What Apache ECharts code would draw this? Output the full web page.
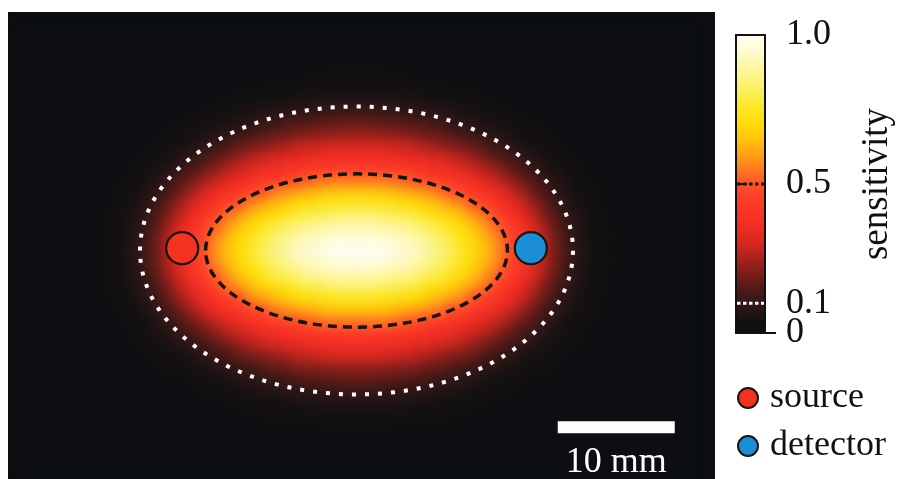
<!DOCTYPE html>
<html>
<head>
<meta charset="utf-8">
<script src="https://cdn.jsdelivr.net/npm/echarts@6/dist/echarts.min.js"></script>
<style>
html,body{margin:0;padding:0;background:#ffffff;}
#chart{width:911px;height:479px;position:relative;}
/* soften the heatmap layer (zlevel 1) like the smoothly rendered original map, clipped to the panel */
#chart canvas[data-zr-dom-id="zr_1"]{filter:blur(5px);clip-path:inset(12px 196px 0px 8px);}
</style>
</head>
<body>
<div id="chart"></div>
<script>
// ---------------- data ----------------
// sensitivity map, one quadrant: row = mm from centre vertically (0..19), column = mm from centre horizontally (0..29)
const sensitivityQuadrant = [
  [1.00,1.00,0.99,0.98,0.95,0.93,0.89,0.85,0.81,0.76,0.70,0.65,0.58,0.50,0.43,0.35,0.27,0.19,0.13,0.08,0.04,0.02,0.01,0,0,0,0,0,0,0],
  [0.97,0.97,0.96,0.94,0.93,0.90,0.87,0.83,0.79,0.74,0.69,0.63,0.57,0.48,0.42,0.34,0.27,0.19,0.12,0.07,0.04,0.02,0.01,0.01,0,0,0,0,0,0],
  [0.91,0.91,0.90,0.89,0.88,0.85,0.82,0.79,0.75,0.70,0.65,0.59,0.52,0.46,0.39,0.32,0.25,0.17,0.11,0.07,0.04,0.02,0.01,0,0,0,0,0,0,0],
  [0.84,0.84,0.83,0.81,0.80,0.78,0.75,0.72,0.68,0.64,0.59,0.54,0.47,0.41,0.35,0.28,0.21,0.15,0.10,0.06,0.03,0.02,0.01,0,0,0,0,0,0,0],
  [0.76,0.76,0.75,0.74,0.72,0.70,0.67,0.64,0.60,0.57,0.50,0.46,0.41,0.36,0.30,0.24,0.18,0.12,0.08,0.05,0.02,0.01,0.01,0,0,0,0,0,0,0],
  [0.66,0.66,0.65,0.64,0.62,0.60,0.58,0.55,0.50,0.47,0.43,0.39,0.35,0.30,0.25,0.19,0.14,0.10,0.06,0.03,0.02,0.01,0,0,0,0,0,0,0,0],
  [0.55,0.55,0.55,0.54,0.52,0.49,0.47,0.45,0.42,0.40,0.36,0.32,0.28,0.24,0.19,0.15,0.11,0.07,0.04,0.02,0.01,0.01,0,0,0,0,0,0,0,0],
  [0.45,0.45,0.44,0.44,0.43,0.41,0.39,0.37,0.35,0.32,0.29,0.26,0.22,0.18,0.14,0.11,0.07,0.05,0.03,0.02,0.01,0,0,0,0,0,0,0,0,0],
  [0.37,0.37,0.36,0.36,0.35,0.33,0.32,0.30,0.28,0.26,0.23,0.19,0.16,0.13,0.10,0.07,0.05,0.03,0.02,0.01,0.01,0,0,0,0,0,0,0,0,0],
  [0.30,0.30,0.30,0.29,0.28,0.27,0.25,0.23,0.21,0.19,0.17,0.14,0.11,0.09,0.06,0.04,0.03,0.02,0.01,0,0,0,0,0,0,0,0,0,0,0],
  [0.23,0.23,0.22,0.22,0.21,0.20,0.18,0.17,0.15,0.13,0.11,0.09,0.07,0.05,0.04,0.02,0.02,0.01,0,0,0,0,0,0,0,0,0,0,0,0],
  [0.17,0.17,0.16,0.16,0.15,0.14,0.13,0.11,0.10,0.08,0.07,0.05,0.04,0.03,0.02,0.01,0.01,0.01,0,0,0,0,0,0,0,0,0,0,0,0],
  [0.11,0.11,0.11,0.10,0.09,0.09,0.08,0.07,0.06,0.05,0.04,0.03,0.02,0.02,0.01,0.01,0,0,0,0,0,0,0,0,0,0,0,0,0,0],
  [0.06,0.06,0.06,0.06,0.05,0.05,0.04,0.03,0.03,0.02,0.02,0.01,0.01,0.01,0,0,0,0,0,0,0,0,0,0,0,0,0,0,0,0],
  [0.03,0.03,0.03,0.03,0.03,0.02,0.02,0.02,0.01,0.01,0.01,0.01,0,0,0,0,0,0,0,0,0,0,0,0,0,0,0,0,0,0],
  [0.02,0.02,0.02,0.01,0.01,0.01,0.01,0.01,0.01,0.01,0,0,0,0,0,0,0,0,0,0,0,0,0,0,0,0,0,0,0,0],
  [0.01,0.01,0.01,0.01,0.01,0,0,0,0,0,0,0,0,0,0,0,0,0,0,0,0,0,0,0,0,0,0,0,0,0],
  [0,0,0,0,0,0,0,0,0,0,0,0,0,0,0,0,0,0,0,0,0,0,0,0,0,0,0,0,0,0],
  [0,0,0,0,0,0,0,0,0,0,0,0,0,0,0,0,0,0,0,0,0,0,0,0,0,0,0,0,0,0],
  [0,0,0,0,0,0,0,0,0,0,0,0,0,0,0,0,0,0,0,0,0,0,0,0,0,0,0,0,0,0]
];
// iso-sensitivity contours (mm)
const contourLevels    = [0.1, 0.5];
const contourCenterX   = [0, 0];
const contourCenterY   = [0, 0];
const contourSemiAxisX = [18.5, 12.9];
const contourSemiAxisY = [12.3, 6.55];
// optodes (mm)
const optodeNames = ['source', 'detector'];
const optodeX = [-14.9, 14.9];
const optodeY = [0.2, 0.2];
// scale bar (mm)
const scaleBarStart = 17.2;
const scaleBarY = -15.1;
const scaleBarLength = 10;
const scaleBarLabel = '10 mm';
// colour bar
const colorbarTickValues = [0, 0.1, 0.5, 1.0];
const colorbarTickLabels = ['0', '0.1', '0.5', '1.0'];
const colorbarTitle = 'sensitivity';

// ---------------- styles / layout ----------------
const colorScale = [
  '#0c0e11','#1a1213','#321716','#521a17','#7c1e19','#aa221c','#d6281f','#ee2c22',
  '#fa3226','#fe3c28','#ff5226','#ff7a20','#ffa214','#ffc40a','#ffdb08','#fde61e',
  '#fcee50','#fdf37e','#fef7aa','#fffbd4','#fffff4'
];
const SERIF = '"Liberation Serif", "Times New Roman", serif';
const PX_PER_MM = 11.7;
const CENTER_PX = [356.5, 250.5];
const nCols = sensitivityQuadrant[0].length;
const nRows = sensitivityQuadrant.length;
const mapRect = {
  left: CENTER_PX[0] - (nCols - 0.5) * PX_PER_MM,
  top: CENTER_PX[1] - (nRows - 0.5) * PX_PER_MM,
  width: (2 * nCols - 1) * PX_PER_MM,
  height: (2 * nRows - 1) * PX_PER_MM
};

// ---------------- build heatmap table ----------------
const xCats = [], yCats = [];
for (let i = -(nCols - 1); i <= nCols - 1; i++) xCats.push(String(i));
for (let j = -(nRows - 1); j <= nRows - 1; j++) yCats.push(String(j));
const heatData = [];
xCats.forEach((xv, xi) => {
  yCats.forEach((yv, yi) => {
    heatData.push([xi, yi, sensitivityQuadrant[Math.abs(+yv)][Math.abs(+xv)]]);
  });
});

function tickLabel(v) {
  const k = colorbarTickValues.findIndex(t => Math.abs(t - v) < 1e-6);
  return k >= 0 ? colorbarTickLabels[k] : '';
}
// the lowest tick lives on its own axis so that it never competes with the 0.1 label
const lowerTicks = colorbarTickValues.slice(0, 1);
const upperTicks = colorbarTickValues.slice(1);

const chart = echarts.init(document.getElementById('chart'), null, {renderer: 'canvas'});
const TOP = 2; // zlevel for crisp overlay marks
const labelStyle = {color: '#111', fontFamily: SERIF, fontSize: 36};

const option = {
  animation: false,
  backgroundColor: '#ffffff',
  graphic: [{
    type: 'rect', zlevel: 0, z: 0, silent: true,
    shape: {x: 8, y: 12, width: 707, height: 467},
    style: {fill: '#0c0e11'}
  }],
  grid: [
    Object.assign({show: false, zlevel: 1}, mapRect),
    Object.assign({show: false, zlevel: TOP}, mapRect),
    {left: 736, top: 35, width: 29, height: 298, show: true, borderColor: '#111', borderWidth: 2,
     backgroundColor: 'transparent', zlevel: TOP, z: 6}
  ],
  xAxis: [
    {gridIndex: 0, type: 'category', data: xCats, show: false, zlevel: 1},
    {gridIndex: 1, type: 'value', min: -(nCols - 0.5), max: nCols - 0.5, show: false, zlevel: TOP},
    {gridIndex: 2, type: 'value', min: 0, max: 1, show: false, zlevel: TOP}
  ],
  yAxis: [
    {gridIndex: 0, type: 'category', data: yCats, show: false, zlevel: 1},
    {gridIndex: 1, type: 'value', min: -(nRows - 0.5), max: nRows - 0.5, show: false, zlevel: TOP},
    {gridIndex: 2, type: 'value', min: 0, max: 1, position: 'right', zlevel: TOP, z: 6,
     axisLine: {show: true, lineStyle: {color: '#111', width: 2}},
     axisTick: {show: true, customValues: upperTicks, length: 11, inside: false,
                lineStyle: {color: '#111', width: 2}},
     axisLabel: Object.assign({show: true, customValues: upperTicks, margin: 21,
                 showMinLabel: true, showMaxLabel: true, hideOverlap: false,
                 formatter: tickLabel}, labelStyle),
     splitLine: {show: false},
     name: colorbarTitle, nameLocation: 'middle', nameRotate: 90, nameGap: 94,
     nameTextStyle: {color: '#111', fontFamily: SERIF, fontSize: 37}},
    {gridIndex: 2, type: 'value', min: 0, max: 1, position: 'right', offset: 0, zlevel: TOP, z: 6,
     axisLine: {show: false},
     axisTick: {show: true, customValues: lowerTicks, length: 11, inside: false,
                lineStyle: {color: '#111', width: 2}},
     axisLabel: Object.assign({show: true, customValues: lowerTicks, margin: 21,
                 showMinLabel: true, formatter: tickLabel}, labelStyle),
     splitLine: {show: false}}
  ],
  visualMap: {
    type: 'continuous', seriesIndex: 0, min: 0, max: 1,
    inRange: {color: colorScale},
    orient: 'vertical', left: 736, top: 35, itemWidth: 29, itemHeight: 298,
    calculable: false, hoverLink: false, padding: 0, zlevel: TOP, z: 1, text: null, showLabel: false
  },
  legend: {
    data: optodeNames, orient: 'vertical', left: 737, top: 380, zlevel: TOP,
    itemWidth: 20, itemHeight: 20, itemGap: 12, icon: 'circle', padding: 0,
    selectedMode: false,
    textStyle: {color: '#111', fontFamily: SERIF, fontSize: 36, padding: [0, 0, 0, 7]}
  },
  series: [
    {
      type: 'heatmap', xAxisIndex: 0, yAxisIndex: 0, data: heatData,
      silent: true, progressive: 0, zlevel: 1, z: 2
    },
    {
      type: 'custom', name: 'contours', xAxisIndex: 1, yAxisIndex: 1, silent: true, zlevel: TOP, z: 4,
      data: contourLevels.map((lv, k) => [contourCenterX[k], contourCenterY[k], contourSemiAxisX[k], contourSemiAxisY[k], lv]),
      renderItem: function (params, api) {
        const c = api.coord([api.value(0), api.value(1)]);
        const s = api.size([api.value(2), api.value(3)]);
        const low = api.value(4) < 0.3;
        return {
          type: 'ellipse',
          shape: {cx: c[0], cy: c[1], rx: s[0], ry: s[1]},
          style: low
            ? {fill: 'none', stroke: '#ffffff', lineWidth: 4, lineDash: [4, 9]}
            : {fill: 'none', stroke: '#141414', lineWidth: 3.5, lineDash: [9, 6]}
        };
      }
    },
    {
      type: 'scatter', name: optodeNames[0], xAxisIndex: 1, yAxisIndex: 1, zlevel: TOP, z: 5, silent: true,
      data: [[optodeX[0], optodeY[0]]], symbol: 'circle', symbolSize: 32,
      itemStyle: {color: '#f3321f', borderColor: '#151515', borderWidth: 2.2, opacity: 1}
    },
    {
      type: 'scatter', name: optodeNames[1], xAxisIndex: 1, yAxisIndex: 1, zlevel: TOP, z: 5, silent: true,
      data: [[optodeX[1], optodeY[1]]], symbol: 'circle', symbolSize: 32,
      itemStyle: {color: '#1b8fd6', borderColor: '#151515', borderWidth: 2.2, opacity: 1}
    },
    {
      type: 'custom', name: 'scalebar', xAxisIndex: 1, yAxisIndex: 1, silent: true, zlevel: TOP, z: 5,
      data: [[scaleBarStart, scaleBarY, scaleBarLength]],
      renderItem: function (params, api) {
        const p0 = api.coord([api.value(0), api.value(1)]);
        const p1 = api.coord([api.value(0) + api.value(2), api.value(1)]);
        return {
          type: 'group',
          children: [
            {type: 'rect', shape: {x: p0[0], y: p0[1] - 6, width: p1[0] - p0[0], height: 12},
             style: {fill: '#ffffff'}},
            {type: 'text',
             style: {text: scaleBarLabel, x: (p0[0] + p1[0]) / 2, y: p0[1] + 35,
                     fill: '#ffffff', font: '36px ' + SERIF,
                     align: 'center', verticalAlign: 'middle',
                     textAlign: 'center', textVerticalAlign: 'middle'}}
          ]
        };
      }
    },
    {
      type: 'custom', name: 'levelMarks', xAxisIndex: 2, yAxisIndex: 2, silent: true, zlevel: TOP, z: 7,
      data: contourLevels.map((lv) => [0, lv]),
      renderItem: function (params, api) {
        const lv = api.value(1);
        const a = api.coord([0, lv]);
        const b = api.coord([1, lv]);
        return {
          type: 'line',
          shape: {x1: a[0] + 1, y1: a[1], x2: b[0] - 1, y2: b[1]},
          style: {stroke: lv < 0.3 ? '#ffffff' : '#141414', lineWidth: 3, lineDash: [3.5, 2.5]}
        };
      }
    }
  ]
};
chart.setOption(option);
</script>
</body>
</html>
